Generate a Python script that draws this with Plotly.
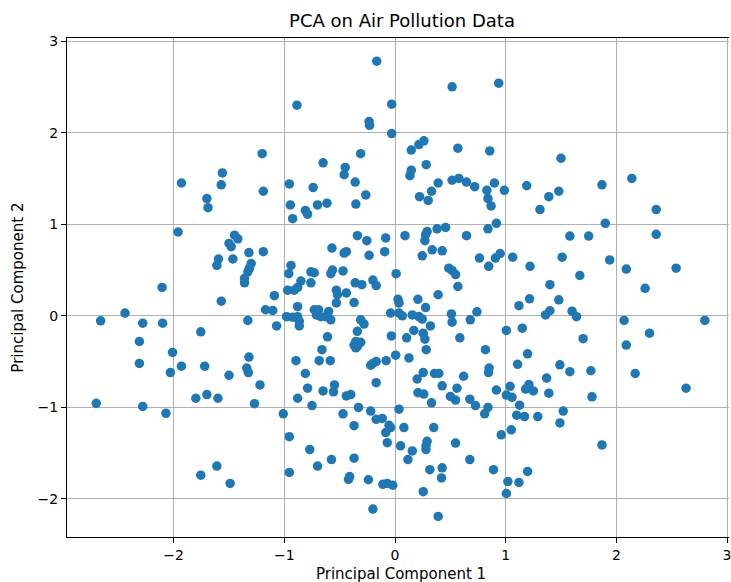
import plotly.graph_objects as go

# Principal component scores (PC1, PC2) for each observation
pc1 = [
    -1.93, -1.56, -1.57, -1.70, -1.69,
    -0.165, -0.886, -0.03, -0.234, -0.23, -0.03, -1.20, -0.31, -0.65, -0.45, -0.46, -0.36,
    -0.955, -0.74, -0.264, -1.19, -0.946, -0.81, -0.79, -0.70, -0.615, -0.354, -0.925,
    0.516, 0.937, 0.147, 0.216, 0.261, 0.568, 0.856, 0.282, 0.147, 0.135, 1.50, 0.516,
    0.577, 0.646, 0.72, 0.39, 0.33, 0.222, 0.30, 0.83, 0.898, 0.988, 0.84, 0.868, 1.19,
    1.39, 1.48, 1.31,
    1.87, 2.14, 2.36,
    1.90, 1.58, 1.75, 2.36, 1.51, 1.94, 2.09, 2.54, 1.67, 2.26, 1.48, 1.60, 1.64, 2.07,
    2.80, 1.70, 2.30, 2.09, 1.49, 1.58, 1.77, 2.17,
    2.63, 1.78, 1.52, 1.49, 1.87,
    -1.96, -1.45, -1.42, -1.50, -1.48, -1.595, -1.61, -1.465, -2.105, -1.57, -2.66, -2.44,
    -2.28, -2.10, -1.755, -2.31, -2.01, -2.31, -1.93, -1.72, -2.03, -1.50,
    -2.70, -2.28, -2.07, -1.80, -1.70, -1.60, -1.755, -1.61, -1.49,
    -1.34, -1.325, -1.22, -1.27, -1.01, -0.955, -0.955, -0.77, -0.70, -0.574, -0.81, -0.79,
    -0.88, -0.75, -0.65, -0.547, -0.556, -0.44, -0.40, -0.47, -0.33, -0.37, -0.37, -0.42,
    -0.41, -0.24, -0.11, -0.07, -0.02, -0.20, -0.22, -0.17, -0.115, -0.054, -0.04, -0.084,
    -0.07, -0.17, 0.036, 0.05,
    -1.32, -1.19, -1.30, -1.315, -1.33, -1.36, -1.36, -1.09, -1.17, -1.105, -1.33, -1.07,
    -1.32, -0.94, -0.96, -0.85, -0.88, -0.91, -0.97, -0.76, -0.73, -0.76, -0.57, -0.46,
    -0.44, -0.34, -0.255, -0.084, -0.093, -0.234, -0.565, -0.58, -0.47, 0.01, -0.36, -0.30,
    -0.20, -0.17, -0.53, -0.44, -0.52, -0.53, -0.37, -0.88, -0.98, -0.925, -0.88, -0.865,
    -0.865, -0.73, -0.69, -0.71, -0.67, -0.60, -0.58, -0.625, -0.61, -0.66, -0.685, -0.585,
    -0.895, -0.31, -0.28, -0.34, -0.354, -0.31, -0.37, -0.34, -0.354, -0.04, -0.033, 0.006,
    -0.20, -0.17, -0.08, -0.22,
    0.09, 0.29, 0.276, 0.27, 0.38, 0.457, 0.646, 0.84, 0.916, 0.336, 0.426, 0.246, 0.763,
    0.907, 0.95, 0.847, 1.063, 1.22, 0.486, 0.516, 0.547, 0.568, 0.39, 1.40, 0.207, 0.027,
    0.036, 0.276, 1.216, 1.12, 1.36, 1.40, 0.036, 0.066, 0.156, 0.216, 0.246, 0.51, 0.516,
    0.74, 0.68, 0.32, 0.17, 0.255, 0.105, 0.27, 0.586, 1.006, 1.15, 0.282, 0.126, 0.817,
    1.198, 1.108,
    0.20, 0.255, 0.357, 0.396, 0.62, 0.85, 0.845, 1.37, 0.207, 0.26, 0.426, 0.56, 0.33,
    0.50, 0.547, 0.676, 0.727, 0.84, 0.81, 0.916, 1.04, 1.006, 1.057, 1.21, 1.18, 1.25,
    1.39, 1.126, 1.10, 1.17, 1.29, 0.08, 0.35, 0.29, 0.28, 0.28, 0.156, 0.117, 0.547,
    0.676, 0.315, 0.426, 0.42, 0.89, 0.96, 1.05, 1.198, 1.02, 1.12, 1.006, 0.255, 0.39,
]

pc2 = [
    1.45, 1.56, 1.43, 1.28, 1.18,
    2.78, 2.30, 2.31, 2.12, 2.08, 1.99, 1.77, 1.77, 1.67, 1.62, 1.54, 1.46,
    1.44, 1.40, 1.32, 1.36, 1.21, 1.15, 1.11, 1.21, 1.23, 1.22, 1.06,
    2.50, 2.54, 1.81, 1.87, 1.91, 1.83, 1.80, 1.65, 1.59, 1.53, 1.72, 1.48,
    1.50, 1.46, 1.41, 1.45, 1.36, 1.30, 1.26, 1.37, 1.45, 1.37, 1.28, 1.20, 1.42,
    1.30, 1.36, 1.16,
    1.43, 1.50, 1.16,
    1.01, 0.87, 0.87, 0.89, 0.64, 0.61, 0.51, 0.52, 0.44, 0.30, 0.175, 0.05, -0.01, -0.05,
    -0.05, -0.25, -0.19, -0.32, -0.535, -0.61, -0.60, -0.63,
    -0.79, -0.885, -1.04, -1.17, -1.41,
    0.915, 0.88, 0.84, 0.79, 0.755, 0.62, 0.55, 0.62, 0.31, 0.16, -0.055, 0.03,
    -0.08, -0.08, -0.175, -0.28, -0.40, -0.52, -0.55, -0.55, -0.62, -0.65,
    -0.955, -0.99, -1.065, -0.90, -0.86, -0.90, -1.74, -1.64, -1.83,
    -0.57, -0.62, -0.755, -0.96, -1.07, -1.32, -1.71, -1.46, -1.64, -1.57, -0.63, -0.79,
    -0.90, -0.98, -0.82, -0.755, -0.83, -0.875, -0.86, -1.07, -1.00, -1.20, -1.555, -1.785,
    -1.755, -1.79, -1.84, -1.83, -1.85, -2.11, -1.04, -1.13, -1.12, -1.195, -1.22, -1.275,
    -1.385, -0.73, -1.02, -1.42,
    0.69, 0.70, 0.57, 0.52, 0.48, 0.41, 0.36, 0.22, 0.066, 0.058, -0.05, -0.11,
    -0.45, 0.55, 0.46, 0.38, 0.31, 0.28, 0.28, 0.48, 0.47, 0.36, 0.74, 0.685,
    0.70, 0.875, 0.82, 0.85, 0.70, 0.66, 0.50, 0.46, 0.49, 0.46, 0.36, 0.34,
    0.39, 0.33, 0.28, 0.25, 0.23, 0.14, 0.145, 0.10, -0.01, -0.015, -0.01, -0.06,
    -0.11, 0.066, 0.066, 0.01, -0.01, 0.047, -0.044, -0.01, -0.23, -0.37, -0.49, -0.49,
    -0.49, -0.044, -0.09, -0.17, -0.28, -0.29, -0.32, -0.335, -0.35, 0.03, -0.22, -0.43,
    -0.52, -0.50, -0.49, -0.54,
    0.875, 0.92, 0.885, 0.82, 0.95, 0.965, 0.875, 0.95, 1.01, 0.72, 0.71, 0.655, 0.63,
    0.63, 0.68, 0.54, 0.64, 0.54, 0.52, 0.495, 0.45, 0.32, 0.23, 0.34, 0.18, 0.18,
    0.14, 0.09, 0.185, 0.11, 0.01, 0.055, 0.03, 0.0, 0.01, -0.008, -0.036, 0.02, -0.07,
    0.044, -0.044, -0.11, -0.16, -0.19, -0.24, -0.255, -0.24, -0.16, -0.135, -0.37, -0.46, -0.37,
    -0.415, -0.53,
    -0.69, -0.62, -0.63, -0.63, -0.66, -0.57, -0.62, -0.68, -0.84, -0.855, -0.765, -0.79, -0.95,
    -0.88, -0.92, -0.91, -0.98, -1.00, -1.07, -0.81, -0.77, -0.865, -0.89, -0.75, -0.80, -0.82,
    -0.845, -0.976, -1.085, -1.10, -1.10, -1.22, -1.22, -1.37, -1.42, -1.46, -1.475, -1.57, -1.39,
    -1.57, -1.68, -1.66, -1.77, -1.68, -1.30, -1.245, -1.70, -1.81, -1.82, -1.94, -1.92, -2.19,
]

tick_vals = [-2, -1, 0, 1, 2, 3]

FONT = "DejaVu Sans"

fig = go.Figure()
fig.add_trace(go.Scatter(
    x=pc1, y=pc2, mode="markers",
    marker=dict(color="#1f77b4", size=9.5, line=dict(width=0)),
    hoverinfo="skip",
))

axis_common = dict(
    showgrid=True, gridcolor="#b0b0b0", gridwidth=1,
    zeroline=False, showline=True, linecolor="black", linewidth=1,
    ticks="outside", ticklen=5, tickwidth=1, tickcolor="black",
    tickfont=dict(family=FONT, size=14, color="black"),
    tickvals=tick_vals,
    ticklabeloverflow="allow",
)

fig.update_xaxes(range=[-2.964, 3.018], mirror=True, **axis_common)
fig.update_yaxes(range=[-2.415, 3.033], mirror=False, **axis_common)

fig.update_layout(
    width=731, height=582,
    margin=dict(l=67, r=0, t=38, b=45),
    plot_bgcolor="white", paper_bgcolor="white",
    showlegend=False,
    font=dict(family=FONT, color="black"),
    title=dict(text="PCA on Air Pollution Data", x=402 / 731, xanchor="center",
               y=1 - 21 / 582, yanchor="middle",
               font=dict(family=FONT, size=18, color="black")),
    annotations=[
        dict(text="Principal Component 1", xref="paper", yref="paper",
             x=(402 - 67) / 664, y=-37 / 499, xanchor="center", yanchor="middle",
             showarrow=False, font=dict(family=FONT, size=15, color="black")),
        dict(text="Principal Component 2", xref="paper", yref="paper",
             x=-50 / 664, y=0.5, xanchor="center", yanchor="middle", textangle=-90,
             showarrow=False, font=dict(family=FONT, size=15, color="black")),
    ],
)

fig.write_html("out.html")
